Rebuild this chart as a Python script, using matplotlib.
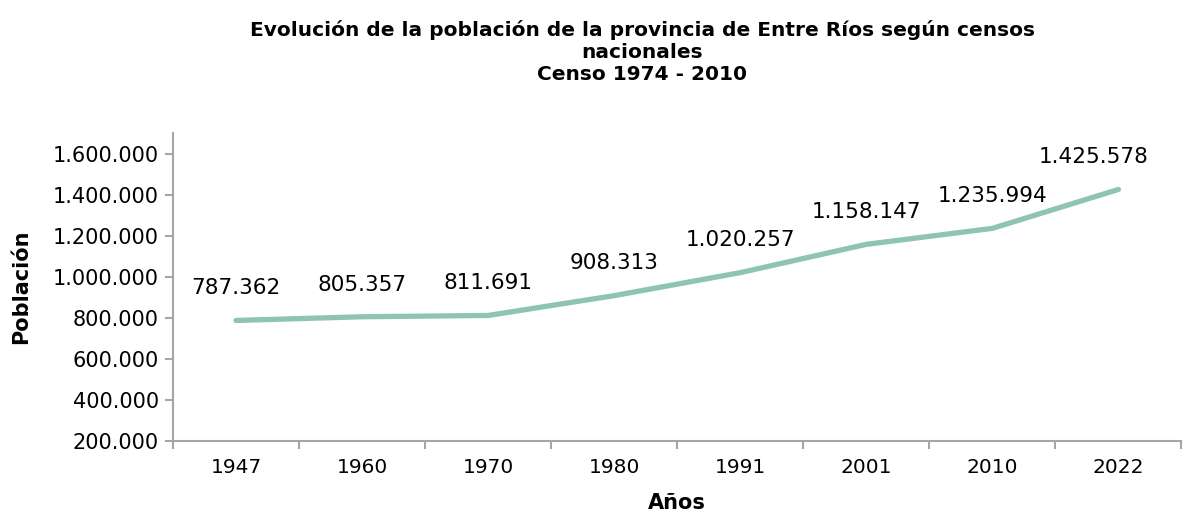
import matplotlib
matplotlib.use("Agg")
import matplotlib.pyplot as plt
from matplotlib.ticker import FuncFormatter, FixedLocator

years = ["1947", "1960", "1970", "1980", "1991", "2001", "2010", "2022"]
population = [787362, 805357, 811691, 908313, 1020257, 1158147, 1235994, 1425578]
y_ticks = [200000, 400000, 600000, 800000, 1000000, 1200000, 1400000, 1600000]

plt.rcParams['font.family'] = ['DejaVu Sans']

def fmt(v):
    return f"{v:,.0f}".replace(",", ".")

fig = plt.figure(figsize=(11.85, 5.14), dpi=100)
ax = fig.add_axes([0.146, 0.142, 0.851, 0.599])

x = list(range(len(years)))
ax.plot(x, population, color="#8fc3b3", lw=3.8, solid_capstyle="round", solid_joinstyle="round")

for i, (xi, v) in enumerate(zip(x, population)):
    dx = -0.2 if i == len(x) - 1 else 0
    ax.annotate(fmt(v), (xi, v), xytext=(dx * 126 * 0.72, 16), textcoords="offset points",
                ha="center", va="bottom", fontsize=15.5, color="black")

ax.set_xlim(-0.5, len(years) - 0.5)
ax.set_ylim(200000, 1700000)
ax.set_yticks(y_ticks)
ax.yaxis.set_major_formatter(FuncFormatter(lambda v, p: fmt(v)))
ax.set_xticks(x)
ax.set_xticklabels(years)
ax.xaxis.set_minor_locator(FixedLocator([i - 0.5 for i in range(len(years) + 1)]))
ax.tick_params(axis="x", which="major", length=0, pad=12, labelsize=14.5)
ax.tick_params(axis="x", which="minor", length=6, color="#a6a6a6", width=1.5)
ax.tick_params(axis="y", length=6, color="#a6a6a6", width=1.5, labelsize=15, pad=4)

for s in ["top", "right"]:
    ax.spines[s].set_visible(False)
for s in ["left", "bottom"]:
    ax.spines[s].set_color("#a6a6a6")
    ax.spines[s].set_linewidth(1.5)

ax.set_ylabel("Población", fontsize=15, fontweight="bold", labelpad=16)
ax.set_xlabel("Años", fontsize=15, fontweight="bold", labelpad=12)

fig.text(0.542, 0.962, "Evolución de la población de la provincia de Entre Ríos según censos\nnacionales\nCenso 1974 - 2010",
         ha="center", va="top", fontsize=14.5, fontweight="bold", linespacing=1.2)

fig.savefig("out.png", dpi=100)
